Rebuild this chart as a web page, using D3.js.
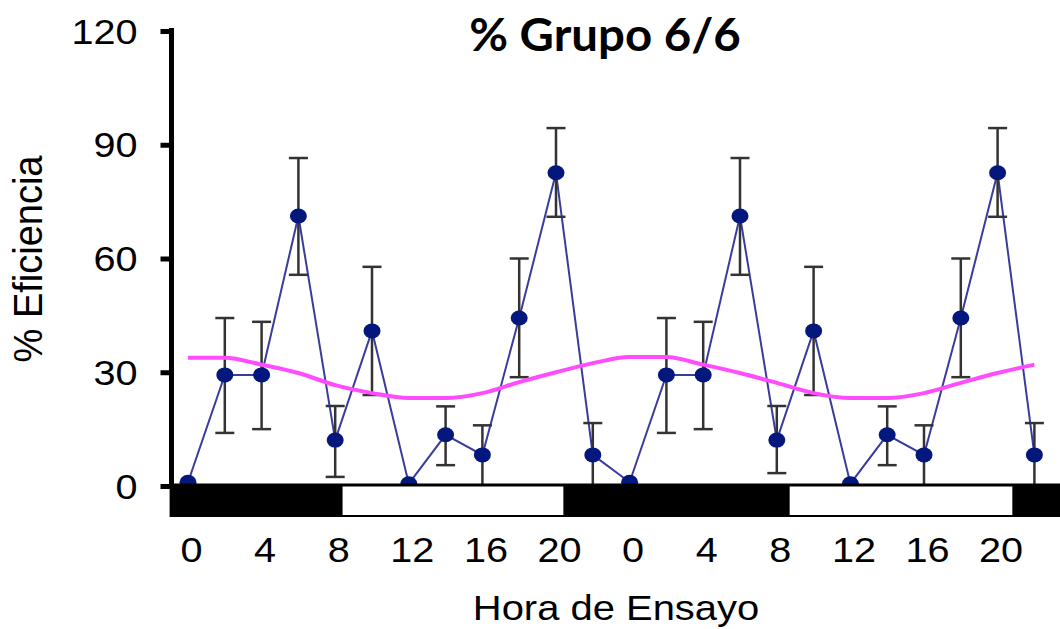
<!DOCTYPE html>
<html>
<head>
<meta charset="utf-8">
<script src="https://cdn.jsdelivr.net/npm/d3@7"></script>
<style>
  html, body { margin: 0; padding: 0; background: #fff; }
  svg { display: block; }
</style>
</head>
<body>
<svg id="chart" width="1060" height="629"></svg>
<script>
// ---- DATA ----
const hours = [0,2,4,6,8,10,12,14,16,18,20,22,24,26,28,30,32,34,36,38,40,42,44,46];
const efficiency = [1,29.3,29.3,71.2,12.1,40.9,0.6,13.5,8.2,44.3,82.6,8.2,
                    1,29.3,29.3,71.2,12.1,40.9,0.6,13.5,8.2,44.3,82.6,8.2];
const errUpper = [null,44.3,43.3,86.5,21.1,57.8,null,21,16,60,94.4,16.6,
                  null,44.3,43.3,86.5,21.1,57.8,null,21,16,60,94.4,16.6];
const errLower = [null,14,15,55.7,2.4,24,null,5.5,0,28.7,71,0,
                  null,14,15,55.7,3.4,24,null,5.5,0,28.7,71,0];
const cosinorFit = [33.8,33.8,32,29.8,26.6,24.5,23.2,23.2,24.5,27.4,30,32.4,
                    34,34,32,29.8,27.2,24.5,23.2,23.2,24.5,27.2,29.8,32];
const lightPeriods = [[8.4,20.4],[32.7,44.8]];
const xTickValues = [0,4,8,12,16,20,24,28,32,36,40,44];
const yTickValues = [0,30,60,90,120];
const titleText = "% Grupo 6/6";
const xTitle = "Hora de Ensayo";
const yTitle = "% Eficiencia";

// ---- CHART ----
const W = 1060, H = 629;
const svg = d3.select("#chart");
const font = "'Liberation Sans', Arial, sans-serif";

const x = d3.scaleLinear().domain([0, 46]).range([188, 1034.4]);
const y = d3.scaleLinear().domain([0, 120]).range([486, 31]);

const pts = hours.map((h, i) => ({h, v: efficiency[i], hi: errUpper[i], lo: errLower[i], c: cosinorFit[i]}));

// blue data line
svg.append("path")
  .datum(pts)
  .attr("fill", "none")
  .attr("stroke", "#3a3c9c")
  .attr("stroke-width", 2)
  .attr("d", d3.line().x(d => x(d.h)).y(d => y(d.v)));

// error bars
const eb = svg.append("g").attr("stroke", "#333").attr("stroke-width", 2.5).attr("fill", "none");
pts.filter(d => d.hi !== null).forEach(d => {
  eb.append("line").attr("x1", x(d.h)).attr("x2", x(d.h)).attr("y1", y(d.hi)).attr("y2", y(d.lo));
  eb.append("line").attr("x1", x(d.h) - 9.5).attr("x2", x(d.h) + 9.5).attr("y1", y(d.hi)).attr("y2", y(d.hi));
  if (d.lo > 0) eb.append("line").attr("x1", x(d.h) - 9.5).attr("x2", x(d.h) + 9.5).attr("y1", y(d.lo)).attr("y2", y(d.lo));
});

// cosinor fit
svg.append("path")
  .datum(pts)
  .attr("fill", "none")
  .attr("stroke", "#ff4cff")
  .attr("stroke-width", 4)
  .attr("d", d3.line().curve(d3.curveMonotoneX).x(d => x(d.h)).y(d => y(d.c)));

// dots
svg.append("g").selectAll("ellipse").data(pts).join("ellipse")
  .attr("cx", d => x(d.h)).attr("cy", d => y(d.v))
  .attr("rx", 8.5).attr("ry", 7.5)
  .attr("fill", "#04177c");

// light/dark bar
const barTop = y(0) - 2.5, barBot = y(0) + 31;
svg.append("rect")
  .attr("x", x(-1)).attr("y", barTop)
  .attr("width", W - x(-1)).attr("height", barBot - barTop)
  .attr("fill", "#000");
svg.append("g").selectAll("rect").data(lightPeriods).join("rect")
  .attr("x", d => x(d[0])).attr("y", barTop + 3)
  .attr("width", d => x(d[1]) - x(d[0])).attr("height", barBot - barTop - 5)
  .attr("fill", "#fff");

// y axis
const yAxis = svg.append("g")
  .attr("transform", `translate(171.5,0)`)
  .call(d3.axisLeft(y).tickValues(yTickValues).tickSize(11).tickSizeOuter(0));
yAxis.select(".domain").attr("stroke", "#000").attr("stroke-width", 5)
  .attr("d", `M0,${y(0)}V${y(120) - 3}`);
yAxis.selectAll(".tick line").attr("stroke", "#000").attr("stroke-width", 5);
yAxis.selectAll(".tick text")
  .attr("x", null).attr("dy", null)
  .attr("transform", "translate(-34,12) scale(1.1,1)")
  .attr("fill", "#000")
  .style("font-family", font).style("font-size", "36px");

// x axis labels
const xAxis = svg.append("g")
  .attr("transform", `translate(0,${y(0)})`)
  .call(d3.axisBottom(x).tickValues(xTickValues).tickFormat(d => d % 24).tickSize(0));
xAxis.select(".domain").remove();
xAxis.selectAll(".tick text")
  .attr("y", null).attr("dy", null)
  .attr("transform", "translate(3,76) scale(1.1,1)")
  .attr("fill", "#000")
  .style("font-family", font).style("font-size", "36px");

// titles
svg.append("text")
  .attr("transform", "translate(616,620) scale(1.11,1)")
  .attr("text-anchor", "middle")
  .style("font-family", font).style("font-size", "36px")
  .text(xTitle);

svg.append("text")
  .attr("transform", "translate(42,259) rotate(-90) scale(1,1.07)")
  .attr("text-anchor", "middle")
  .style("font-family", font).style("font-size", "38px")
  .text(yTitle);

svg.append("text")
  .attr("transform", "translate(605,51) scale(1.03,1)")
  .attr("text-anchor", "middle")
  .style("font-family", "Lato, 'Open Sans', sans-serif").style("font-weight", "bold").style("font-size", "46px")
  .text(titleText);
</script>
</body>
</html>
